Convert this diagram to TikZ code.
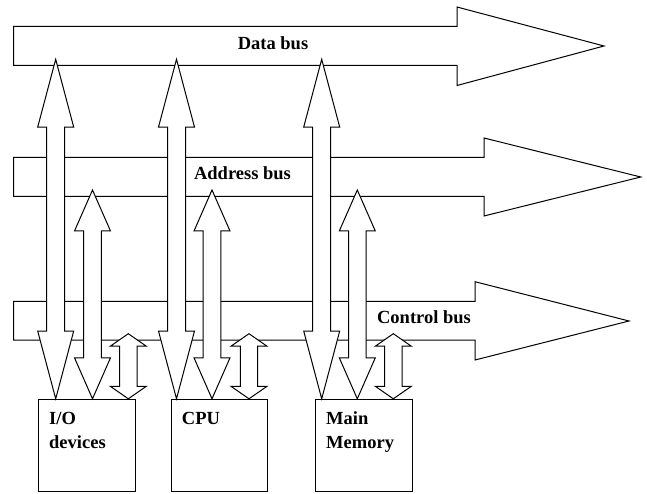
\documentclass[tikz,border=0pt]{standalone}
\usepackage{fontspec}
\setmainfont{Liberation Serif}
\begin{document}
\begin{tikzpicture}[x=1pt,y=-1pt,
  shape line/.style={draw=black,line width=1pt,fill=white,line join=miter},
  box/.style={draw=black,line width=1pt,fill=white,anchor=north west,minimum width=97pt,minimum height=91.7pt,inner sep=0pt},
  lbl/.style={font=\fontsize{18.5}{24}\selectfont\bfseries,inner sep=0pt}]
\useasboundingbox (0,0) rectangle (647,494);
\newcommand\busarrow[8]{% top, bottom, headx, headtop, headbot, tipx, tipy
  \draw[shape line] (13.5,#1) -- (#3,#1) -- (#3,#4) -- (#6,#7) -- (#3,#5) -- (#3,#2) -- (13.5,#2) -- cycle;}
\newcommand\vdarr[5]{% cx, ytop, ybot, headlen, shafthalf
  \draw[shape line] (#1,#2) -- (#1+18,#2+#4) -- (#1+#5,#2+#4) -- (#1+#5,#3-#4) -- (#1+18,#3-#4)
    -- (#1,#3) -- (#1-18,#3-#4) -- (#1-#5,#3-#4) -- (#1-#5,#2+#4) -- (#1-18,#2+#4) -- cycle;}
% buses
\busarrow{26.5}{65.5}{457}{7}{85.5}{604}{46}{}
\busarrow{157.5}{196.5}{484}{138}{216}{640.7}{177}{}
\busarrow{301.3}{340}{475}{281.7}{360}{629}{321}{}
\node[lbl] (datalbl) at (273,43) {Data bus};
\node[lbl] (addrlbl) at (242.5,173) {Address bus};
\node[lbl] (ctrllbl) at (424,317) {Control bus};
% boxes
\node[box] (io) at (37.7,399) {};
\node[box,minimum width=96.6pt] (cpu) at (170.7,399) {};
\node[box,minimum width=96.7pt] (mem) at (315,399) {};
\node[lbl,anchor=base west] (io1) at (49,424) {I/O};
\node[lbl,anchor=base west] (io2) at (49,448) {devices};
\node[lbl,anchor=base west] (cpu1) at (181.7,424) {CPU};
\node[lbl,anchor=base west] (mem1) at (326,424) {Main};
\node[lbl,anchor=base west] (mem2) at (326,448) {Memory};
% data bus arrows
\vdarr{55.7}{59.3}{398.8}{67.8}{9}
\vdarr{176.5}{59.3}{398.8}{67.8}{9}
\vdarr{321.7}{59.3}{398.8}{67.8}{9}
% address bus arrows
\vdarr{92.5}{190}{398.8}{41}{8.8}
\vdarr{212}{190}{398.8}{41}{8.8}
\vdarr{357.3}{190}{398.8}{41}{8.8}
% control bus arrows
\vdarr{128.3}{333.7}{398.8}{12.5}{8.7}
\vdarr{249}{333.7}{398.8}{12.5}{8.7}
\vdarr{393.3}{333.7}{398.8}{12.5}{8.7}
\end{tikzpicture}
\end{document}
